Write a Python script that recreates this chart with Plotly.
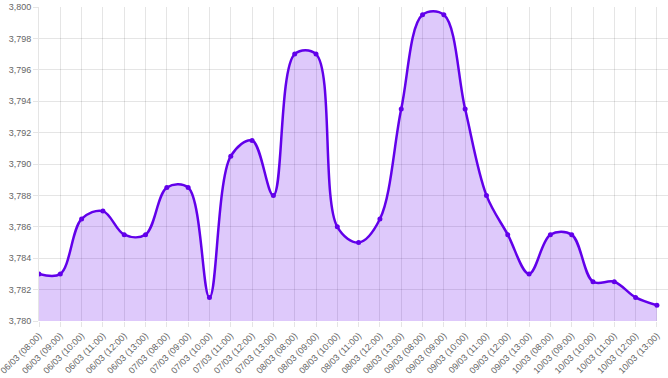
import plotly.graph_objects as go

labels = [
    "06/03 (08:00)", "06/03 (09:00)", "06/03 (10:00)", "06/03 (11:00)", "06/03 (12:00)", "06/03 (13:00)",
    "07/03 (08:00)", "07/03 (09:00)", "07/03 (10:00)", "07/03 (11:00)", "07/03 (12:00)", "07/03 (13:00)",
    "08/03 (08:00)", "08/03 (09:00)", "08/03 (10:00)", "08/03 (11:00)", "08/03 (12:00)", "08/03 (13:00)",
    "09/03 (08:00)", "09/03 (09:00)", "09/03 (10:00)", "09/03 (11:00)", "09/03 (12:00)", "09/03 (13:00)",
    "10/03 (08:00)", "10/03 (09:00)", "10/03 (10:00)", "10/03 (11:00)", "10/03 (12:00)", "10/03 (13:00)",
]
values = [
    3.783, 3.783, 3.7865, 3.787, 3.7855, 3.7855,
    3.7885, 3.7885, 3.7815, 3.7905, 3.7915, 3.788,
    3.797, 3.797, 3.786, 3.785, 3.7865, 3.7935,
    3.7995, 3.7995, 3.7935, 3.788, 3.7855, 3.783,
    3.7855, 3.7855, 3.7825, 3.7825, 3.7815, 3.781,
]
y_ticks = [3.780, 3.782, 3.784, 3.786, 3.788, 3.790, 3.792, 3.794, 3.796, 3.798, 3.800]

fig = go.Figure()
fig.add_trace(go.Scatter(
    x=labels, y=values,
    mode="lines+markers",
    line=dict(color="#6200EA", width=2.5, shape="spline", smoothing=1),
    marker=dict(color="#6200EA", size=5),
    fill="tozeroy",
    fillcolor="rgba(98,0,234,0.21)",
    hoverinfo="x+y",
))

grid = "rgba(0,0,0,0.1)"
fig.update_layout(
    width=668, height=378,
    margin=dict(l=39, r=0, t=7, b=57, autoexpand=False),
    paper_bgcolor="white", plot_bgcolor="white",
    separators=",.",
    showlegend=False,
    font=dict(family="Liberation Sans, Arial, sans-serif", size=9, color="#666666"),
    xaxis=dict(
        type="category",
        range=[0, 29.52],
        tickangle=-45,
        automargin=False,
        showgrid=True, gridcolor=grid, gridwidth=1,
        ticks="outside", ticklen=5, tickcolor=grid,
        showline=False, zeroline=False,
        tickfont=dict(size=9, color="#666666"),
    ),
    yaxis=dict(
        range=[3.780, 3.800],
        tickvals=y_ticks,
        tickformat=".3f",
        automargin=False,
        showgrid=True, gridcolor=grid, gridwidth=1,
        ticks="outside", ticklen=5, tickcolor=grid,
        showline=True, linecolor=grid, linewidth=1,
        zeroline=False,
        tickfont=dict(size=9, color="#666666"),
    ),
)

fig.write_html("out.html")
